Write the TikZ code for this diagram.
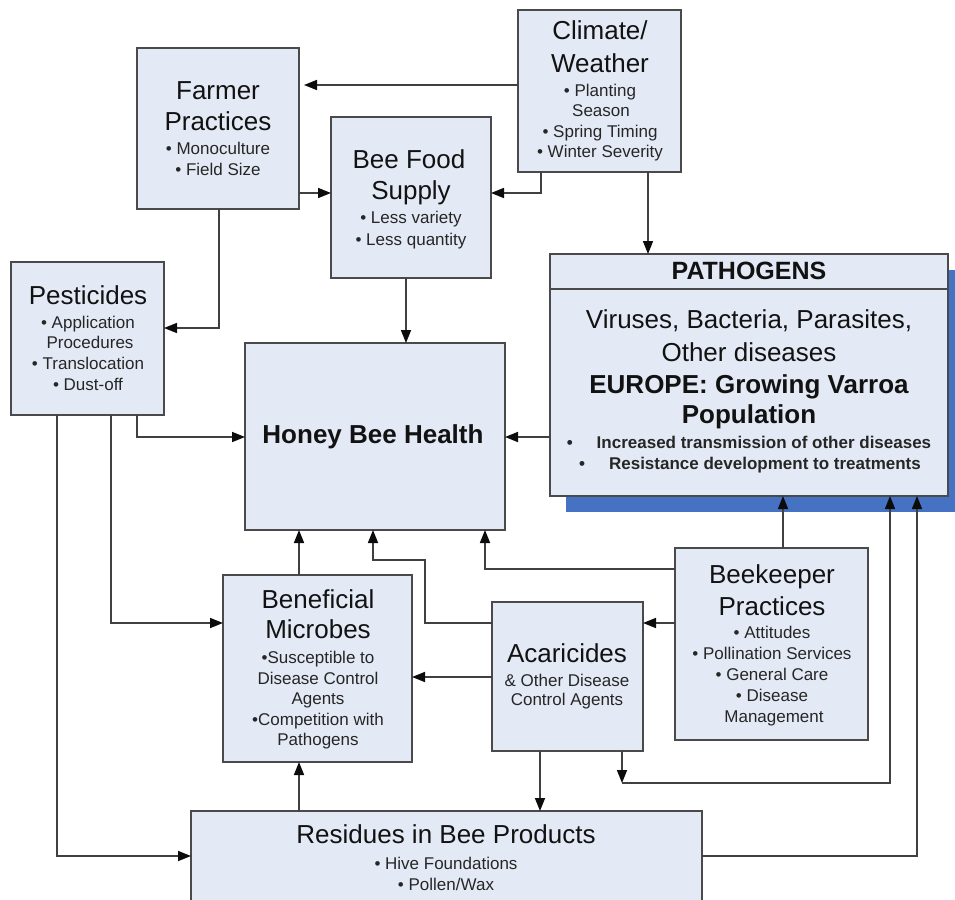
\documentclass[tikz,border=0pt]{standalone}
\usepackage{fontspec}
\setmainfont{Liberation Sans}
\usetikzlibrary{arrows.meta}

\definecolor{boxfill}{RGB}{228,234,245}
\definecolor{boxline}{RGB}{74,74,74}
\definecolor{wirecol}{RGB}{64,64,64}
\definecolor{tipcol}{RGB}{12,12,12}
\definecolor{shadowblue}{RGB}{70,114,196}
\definecolor{ink}{RGB}{18,18,18}
\definecolor{subink}{RGB}{38,38,38}

% box with top-left corner (#2,#3) and bottom-right corner (#4,#5)
\newcommand\diagbox[5]{%
  \node[box, minimum width=#4-#2, minimum height=#5-#3] (#1) at (#2,#3) {};}

\begin{document}
\begin{tikzpicture}[x=1pt, y=-1pt,
  box/.style={draw=boxline, fill=boxfill, line width=2pt, rectangle,
    inner sep=0pt, outer sep=0pt, anchor=north west},
  ttl/.style={anchor=base, inner sep=0pt, text=ink, font=\fontsize{26}{31}\selectfont},
  ttlb/.style={ttl, font=\fontsize{26}{31}\selectfont\bfseries},
  sub/.style={anchor=base, inner sep=0pt, text=subink, font=\fontsize{17}{21}\selectfont},
  subb/.style={sub, font=\fontsize{17}{21}\selectfont\bfseries},
  wire/.style={draw=wirecol, line width=1.6pt,
    -{Triangle[length=13pt,width=10pt,color=tipcol]}},
]
\useasboundingbox (0,0) rectangle (955,899);

% drop shadow of the pathogens panel
\fill[shadowblue] (566,270) rectangle (975,512);

% boxes
\diagbox{farmer}{137}{48}{299}{209}
\diagbox{food}{331}{117}{491}{278}
\diagbox{climate}{518}{10}{681}{172}
\diagbox{path}{550}{254}{948}{496}
\draw[boxline, line width=2pt] (path.west |- 0,289) -- (path.east |- 0,289);
\diagbox{pest}{11}{262}{164}{415}
\diagbox{hbh}{245}{343}{505}{530}
\diagbox{benef}{223}{575}{412}{762}
\diagbox{acar}{492}{602}{643}{751}
\diagbox{beek}{675}{548}{868}{740}
\diagbox{resid}{191}{811}{702}{915}

% connectors
\draw[wire, shorten >=5pt] (climate.west |- 0,85) -- (farmer.east |- 0,85);
\draw[wire] (farmer.east |- 0,193) -- (food.west |- 0,193);
\draw[wire] (541,0 |- climate.south) |- (food.east |- 0,193);
\draw[wire] (648,0 |- climate.south) -- (648,0 |- path.north);
\draw[wire] (219,0 |- farmer.south) |- (pest.east |- 0,328);
\draw[wire] (406,0 |- food.south) -- (406,0 |- hbh.north);
\draw[wire] (137,0 |- pest.south) |- (hbh.west |- 0,437);
\draw[wire] (111,0 |- pest.south) |- (benef.west |- 0,623);
\draw[wire] (57,0 |- pest.south) |- (resid.west |- 0,856);
\draw[wire] (path.west |- 0,437) -- (hbh.east |- 0,437);
\draw[wire] (299,0 |- benef.north) -- (299,0 |- hbh.south);
\draw[wire] (acar.west |- 0,623) -| (425,560) -| (373,0 |- hbh.south);
\draw[wire] (acar.west |- 0,677) -- (benef.east |- 0,677);
\draw[wire] (beek.west |- 0,569) -| (485,0 |- hbh.south);
\draw[wire] (783,0 |- beek.north) -- (783,0 |- path.south);
\draw[wire] (beek.west |- 0,623) -- (acar.east |- 0,623);
\draw[wire] (540,0 |- acar.south) -- (540,0 |- resid.north);
\coordinate (acarturn) at (622,783);
\draw[wire] (622,0 |- acar.south) -- (acarturn);
\draw[wire] (acarturn) -| (890,0 |- path.south);
\draw[wire] (resid.east |- 0,856) -| (917,0 |- path.south);
\draw[wire] (299,0 |- resid.north) -- (299,0 |- benef.south);

% Farmer Practices
\node[ttl] (farmer-l1) at (218,99) {Farmer};
\node[ttl] (farmer-l2) at (218,130) {Practices};
\node[sub] (farmer-l3) at (218,154) {• Monoculture};
\node[sub] (farmer-l4) at (218,175) {• Field Size};

% Bee Food Supply
\node[ttl] (food-l1) at (409,168) {Bee Food};
\node[ttl] (food-l2) at (411,199) {Supply};
\node[sub] (food-l3) at (411,223) {• Less variety};
\node[sub] (food-l4) at (411,245) {• Less quantity};

% Climate / Weather
\node[ttl] (climate-l1) at (600,40) {Climate/};
\node[ttl] (climate-l2) at (600,72) {Weather};
\node[sub] (climate-l3) at (600,96) {• Planting};
\node[sub] (climate-l4) at (601,116) {Season};
\node[sub] (climate-l5) at (600,137) {• Spring Timing};
\node[sub] (climate-l6) at (600,157) {• Winter Severity};

% Pathogens
\node[ttlb, font=\fontsize{25}{30}\selectfont\bfseries] (path-l0) at (749,279) {PATHOGENS};
\node[ttl] (path-l1) at (749,328) {Viruses, Bacteria, Parasites,};
\node[ttl] (path-l2) at (749,361) {Other diseases};
\node[ttlb] (path-l3) at (749,393) {EUROPE: Growing Varroa};
\node[ttlb] (path-l4) at (749,423) {Population};
\node[subb] (path-l5) at (749,448) {•\hspace{24pt}Increased transmission of other diseases};
\node[subb] (path-l6) at (750,469) {•\hspace{24pt}Resistance development to treatments};

% Pesticides
\node[ttl] (pest-l1) at (88,304) {Pesticides};
\node[sub] (pest-l2) at (88,328) {• Application};
\node[sub] (pest-l3) at (90,348) {Procedures};
\node[sub] (pest-l4) at (88,369) {• Translocation};
\node[sub] (pest-l5) at (88,390) {• Dust-off};

% Honey Bee Health
\node[ttlb] (hbh-l1) at (373,443) {Honey Bee Health};

% Beneficial Microbes
\node[ttl] (benef-l1) at (318,608) {Beneficial};
\node[ttl] (benef-l2) at (318,638) {Microbes};
\node[sub] (benef-l3) at (318,663) {•Susceptible to};
\node[sub] (benef-l4) at (318,684) {Disease Control};
\node[sub] (benef-l5) at (318,704) {Agents};
\node[sub] (benef-l6) at (318,725) {•Competition with};
\node[sub] (benef-l7) at (318,745) {Pathogens};

% Acaricides
\node[ttl] (acar-l1) at (567,662) {Acaricides};
\node[sub] (acar-l2) at (567,686) {\& Other Disease};
\node[sub] (acar-l3) at (567,705) {Control Agents};

% Beekeeper Practices
\node[ttl] (beek-l1) at (772,583) {Beekeeper};
\node[ttl] (beek-l2) at (772,615) {Practices};
\node[sub] (beek-l3) at (772,638) {• Attitudes};
\node[sub] (beek-l4) at (772,659) {• Pollination Services};
\node[sub] (beek-l5) at (772,680) {• General Care};
\node[sub] (beek-l6) at (772,701) {• Disease};
\node[sub] (beek-l7) at (774,722) {Management};

% Residues in Bee Products
\node[ttl] (resid-l1) at (446,843) {Residues in Bee Products};
\node[sub] (resid-l2) at (446,869) {• Hive Foundations};
\node[sub] (resid-l3) at (446,890) {• Pollen/Wax};
\end{tikzpicture}
\end{document}
